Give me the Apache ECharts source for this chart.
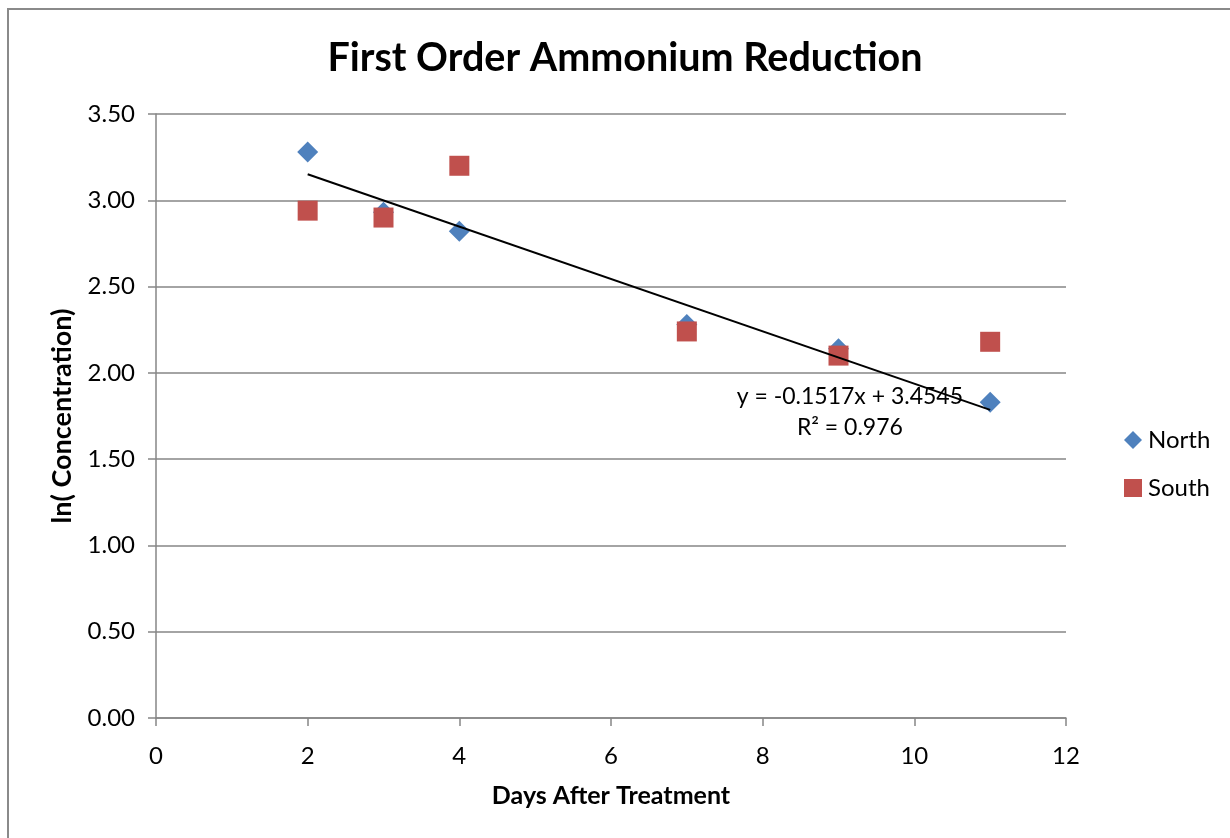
<!DOCTYPE html>
<html>
<head>
<meta charset="utf-8">
<script src="https://cdn.jsdelivr.net/npm/echarts@6/dist/echarts.min.js"></script>
<style>
  html, body { margin: 0; padding: 0; background: #fff; }
  #chart { width: 1230px; height: 838px; }
</style>
</head>
<body>
<div id="chart"></div>
<script>
// Days after treatment at which samples were taken
const days = [2, 3, 4, 7, 9, 11];
// ln(concentration) per site
const northValues = [3.28, 2.93, 2.82, 2.28, 2.14, 1.83];
const southValues = [2.94, 2.90, 3.20, 2.24, 2.10, 2.18];
// Linear fit reported for the North series
const fitSlope = -0.1517;
const fitIntercept = 3.4545;
const fitR2 = 0.976;
const yTicks = [0, 0.5, 1, 1.5, 2, 2.5, 3, 3.5];

const FONT = 'Lato, "Open Sans", sans-serif';
const GRAY = '#868686';

const pair = (xs, ys) => xs.map((x, i) => [x, ys[i]]);
const fitStart = days[0], fitEnd = days[days.length - 1];
const fitLine = [
  [fitStart, fitSlope * fitStart + fitIntercept],
  [fitEnd, fitSlope * fitEnd + fitIntercept]
];

const border = {
  type: 'rect', silent: true, z: -10,
  shape: { x: 8, y: 9, width: 1300, height: 900 },
  style: { fill: 'none', stroke: '#8a8a8a', lineWidth: 2 }
};

const chart = echarts.init(document.getElementById('chart'));
chart.setOption({
  animation: false,
  backgroundColor: '#fff',
  title: {
    text: 'First Order Ammonium Reduction',
    left: 620, textAlign: 'center', top: 33,
    textStyle: { fontFamily: FONT, fontWeight: 'bold', fontSize: 39.5, color: '#000' }
  },
  grid: { left: 156, right: 164, top: 114, bottom: 120, containLabel: false },
  xAxis: {
    type: 'value', min: 0, max: 12, interval: 2,
    name: 'Days After Treatment', nameLocation: 'middle', nameGap: 65,
    nameTextStyle: { fontFamily: FONT, fontWeight: 'bold', fontSize: 25, color: '#000' },
    axisLine: { lineStyle: { color: GRAY, width: 1.5 } },
    axisTick: { show: true, inside: false, length: 8, lineStyle: { color: GRAY, width: 1.5 } },
    axisLabel: { fontFamily: FONT, fontSize: 24, color: '#000', margin: 26 },
    splitLine: { show: false }
  },
  yAxis: {
    type: 'value', min: yTicks[0], max: yTicks[yTicks.length - 1], interval: 0.5,
    name: 'ln( Concentration)', nameLocation: 'middle', nameGap: 80, nameRotate: 90,
    nameTextStyle: { fontFamily: FONT, fontWeight: 'bold', fontSize: 27, color: '#000' },
    axisLine: { show: true, lineStyle: { color: GRAY, width: 1.5 } },
    axisTick: { show: true, inside: false, length: 8, lineStyle: { color: GRAY, width: 1.5 } },
    axisLabel: { fontFamily: FONT, fontSize: 24, color: '#000', margin: 21,
      formatter: v => v.toFixed(2) },
    splitLine: { show: true, lineStyle: { color: GRAY, width: 1.5 } }
  },
  legend: {
    orient: 'vertical', left: 1119, top: 423, itemGap: 24,
    itemWidth: 18, itemHeight: 18,
    textStyle: { fontFamily: FONT, fontSize: 24, color: '#000', padding: [0, 0, 0, 1] },
    data: [
      { name: 'North', icon: 'diamond' },
      { name: 'South', icon: 'rect' }
    ]
  },
  series: [
    {
      name: 'North', type: 'scatter', symbol: 'diamond', symbolSize: 21,
      itemStyle: { color: '#4F81BD', opacity: 1 }, data: pair(days, northValues), z: 3
    },
    {
      name: 'South', type: 'scatter', symbol: 'rect', symbolSize: 20,
      itemStyle: { color: '#C0504D', opacity: 1 }, data: pair(days, southValues), z: 4
    },
    {
      name: 'fit', type: 'line', data: fitLine, symbol: 'none', silent: true,
      lineStyle: { color: '#000', width: 2 }, z: 5
    }
  ],
  graphic: [border]
});

// Equation label anchored near the lower end of the fitted line
const eqPos = chart.convertToPixel({ gridIndex: 0 }, [9.15, 1.77]);
chart.setOption({
  graphic: [
    border,
    {
      type: 'text', z: 10, x: eqPos[0], y: eqPos[1],
      style: {
        text: 'y = ' + fitSlope + 'x + ' + fitIntercept + '\nR² = ' + fitR2,
        fontFamily: FONT, fontSize: 23, fill: '#000',
        align: 'center', verticalAlign: 'middle', lineHeight: 31
      }
    }
  ]
});
</script>
</body>
</html>
